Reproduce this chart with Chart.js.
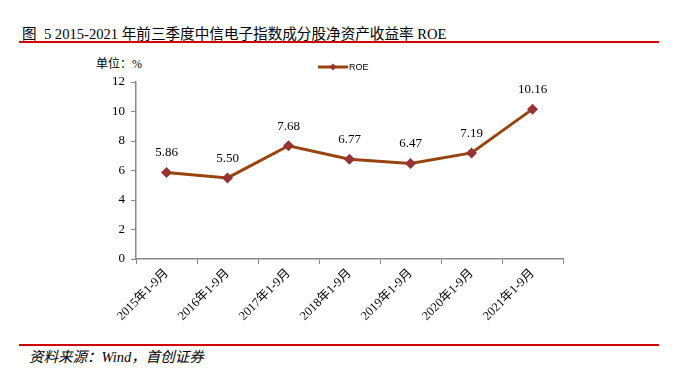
<!DOCTYPE html>
<html><head><meta charset="utf-8">
<script src="https://cdn.jsdelivr.net/npm/chart.js@4"></script>
<style>
html,body{margin:0;padding:0;background:#fff;width:680px;height:370px;overflow:hidden;}
#wrap{position:relative;width:680px;height:370px;}
#title{position:absolute;left:22px;top:22px;font-family:"Liberation Serif","Noto Sans CJK SC",serif;font-size:14.6px;color:#000;white-space:nowrap;}
.rl{position:absolute;left:19px;width:640px;height:2px;background:#d00000;}
#src{position:absolute;left:29px;top:345px;font-family:"Liberation Serif","Noto Sans CJK SC",serif;font-style:italic;font-size:14.5px;color:#000;white-space:nowrap;}
#unit{position:absolute;left:96px;top:54px;font-family:"Liberation Serif","Noto Sans CJK SC",serif;font-size:12px;color:#000;}
canvas{position:absolute;left:0;top:0;}
</style></head>
<body><div id="wrap">
<div id="title">图&nbsp; 5 2015-2021 年前三季度中信电子指数成分股净资产收益率 ROE</div>
<div class="rl" style="top:41px"></div>
<div class="rl" style="top:344px"></div>
<div id="src">资料来源：Wind，首创证券</div>
<div id="unit">单位：%</div>
<canvas id="c" width="680" height="370"></canvas>
</div>
<script>
const categories = ["2015年1-9月","2016年1-9月","2017年1-9月","2018年1-9月","2019年1-9月","2020年1-9月","2021年1-9月"];
const roeValues = [5.86, 5.50, 7.68, 6.77, 6.47, 7.19, 10.16];
const yTicks = [0, 2, 4, 6, 8, 10, 12];
const seriesName = "ROE";

const lineColor = "#99430f";
const markerColor = "#993333";
const serif = '"Liberation Serif","Noto Sans CJK SC",serif';

const labelsPlugin = {
  id: 'extras',
  afterDatasetsDraw(chart) {
    const ctx = chart.ctx;
    const meta = chart.getDatasetMeta(0);
    ctx.save();
    ctx.font = '13px ' + serif;
    ctx.fillStyle = '#000';
    ctx.textAlign = 'center';
    ctx.textBaseline = 'bottom';
    meta.data.forEach((pt, i) => {
      ctx.fillText(roeValues[i].toFixed(2), pt.x, pt.y - 13);
    });
    // legend
    const lx = 318, ly = 67;
    ctx.strokeStyle = lineColor; ctx.lineWidth = 3;
    ctx.beginPath(); ctx.moveTo(lx, ly); ctx.lineTo(lx + 30, ly); ctx.stroke();
    ctx.fillStyle = markerColor;
    ctx.beginPath(); ctx.moveTo(lx+15, ly-3.5); ctx.lineTo(lx+18.5, ly); ctx.lineTo(lx+15, ly+3.5); ctx.lineTo(lx+11.5, ly); ctx.closePath(); ctx.fill();
    ctx.fillStyle = '#000';
    ctx.font = '9px "Liberation Sans",sans-serif';
    ctx.textAlign = 'left'; ctx.textBaseline = 'middle';
    ctx.fillText(seriesName, lx + 31, ly + 0.5);
    ctx.restore();
  }
};

new Chart(document.getElementById('c'), {
  type: 'line',
  data: {
    labels: categories,
    datasets: [{
      label: seriesName,
      data: roeValues,
      borderColor: lineColor,
      borderWidth: 3,
      pointStyle: 'rectRot',
      pointRadius: 5.5,
      pointBackgroundColor: markerColor,
      pointBorderColor: markerColor,
      pointBorderWidth: 0,
      tension: 0
    }]
  },
  options: {
    responsive: false,
    animation: false,
    devicePixelRatio: 1,
    layout: { padding: { left: 0, right: 117, top: 82, bottom: 0 } },
    plugins: { legend: { display: false }, tooltip: { enabled: false } },
    scales: {
      x: {
        offset: true,
        grid: { display: true, offset: true, drawOnChartArea: false, tickLength: 5, color: '#888' },
        border: { color: '#888', width: 1.5 },
        ticks: { color: '#000', font: { family: serif, size: 12.5 }, maxRotation: 45, minRotation: 45, padding: 2 },
        afterFit(s) { s.height = 111; }
      },
      y: {
        min: 0, max: 12,
        afterBuildTicks(s) { s.ticks = yTicks.map(v => ({ value: v })); },
        grid: { display: true, drawOnChartArea: false, tickLength: 5, color: '#888' },
        border: { color: '#888', width: 1.5 },
        ticks: { color: '#000', font: { family: serif, size: 13 }, padding: 6 },
        afterFit(s) { s.width = 136; }
      }
    }
  },
  plugins: [labelsPlugin]
});
</script>
</body></html>
